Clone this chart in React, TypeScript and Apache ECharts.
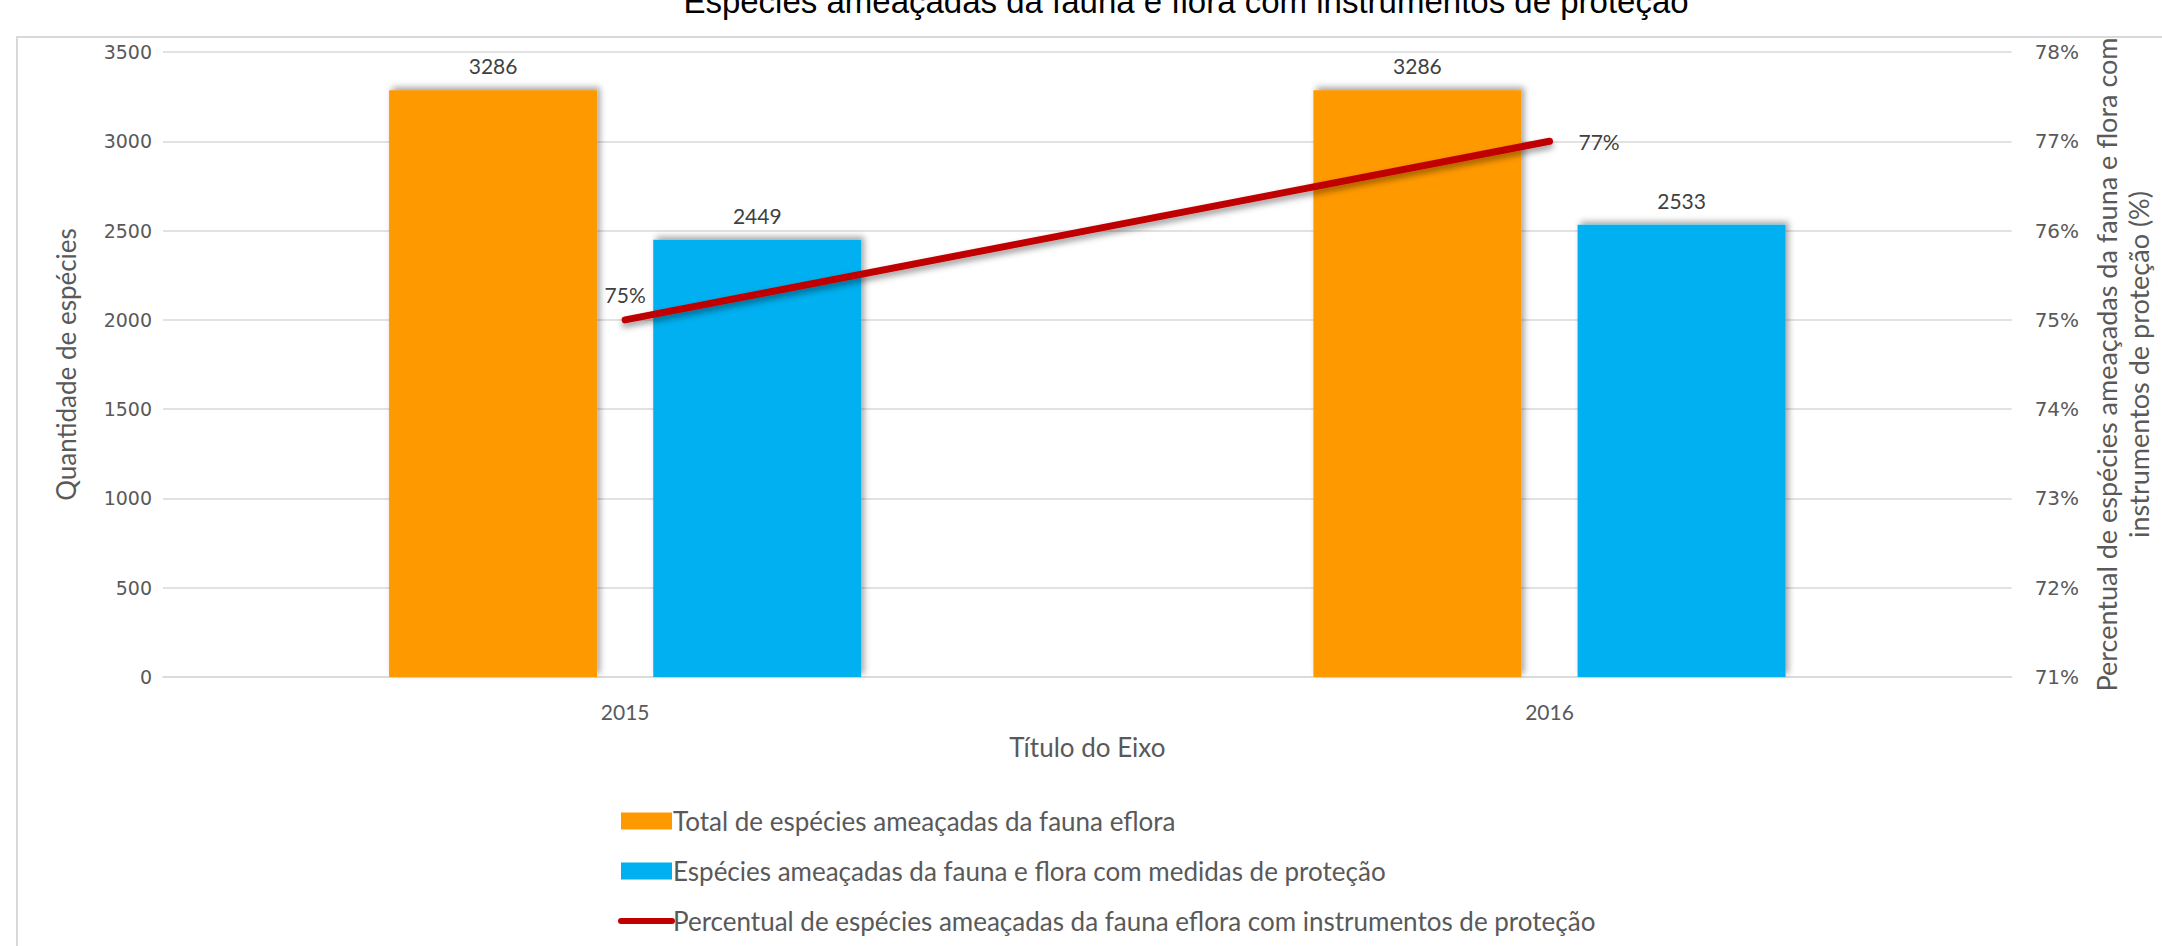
import React, { useEffect, useRef } from "react";
import * as echarts from "echarts";

const categories = ["2015", "2016"];
const totalSpecies = [3286, 3286];
const protectedSpecies = [2449, 2533];
const percentProtected = [75, 77];
const leftTicks = { min: 0, max: 3500, interval: 500 };
const rightTicks = { min: 71, max: 78, interval: 1 };

const seriesNames = [
  "Total de espécies ameaçadas da fauna eflora",
  "Espécies ameaçadas da fauna e flora com medidas de proteção",
  "Percentual de espécies ameaçadas da fauna eflora com instrumentos de proteção",
];
const titleText = "Espécies ameaçadas da fauna e flora com instrumentos de proteção";
const leftAxisTitle = "Quantidade de espécies";
const rightAxisTitle = "Percentual de espécies ameaçadas da fauna e flora com\ninstrumentos de proteção (%)";
const xAxisTitle = "Título do Eixo";

const LABEL_FONT = "Lato, 'Open Sans', sans-serif";
const TICK_FONT = "'DejaVu Sans', sans-serif";

export default function App() {
  const ref = useRef<HTMLDivElement>(null);
  useEffect(() => {
    if (!ref.current) return;
    const chart = echarts.init(ref.current, null, { renderer: "svg" });
    const barShadow = {
      shadowColor: "rgba(0,0,0,0.35)",
      shadowBlur: 6,
      shadowOffsetX: 3,
      shadowOffsetY: -3,
    };
    chart.setOption({
      animation: false,
      backgroundColor: "#ffffff",
      graphic: [
        {
          type: "rect",
          shape: { x: 17, y: 37, width: 2200, height: 1000 },
          style: { fill: "none", stroke: "#D9D9D9", lineWidth: 2 },
          silent: true,
          z: -10,
        },
        {
          type: "text",
          x: 1186,
          y: 1,
          style: {
            text: titleText,
            fill: "#000000",
            font: "33px 'Liberation Sans', Arial, sans-serif",
            align: "center",
            verticalAlign: "middle",
          },
        },
      ],
      grid: { left: 163, right: 120, top: 52, bottom: 269, containLabel: false },
      legend: {
        orient: "vertical",
        left: 618,
        top: 806,
        padding: 0,
        itemWidth: 51,
        itemHeight: 17,
        itemGap: 20,
        textStyle: {
          fontFamily: LABEL_FONT,
          fontSize: 26,
          color: "#595959",
          lineHeight: 30,
          padding: [0, 0, 0, -4],
        },
        data: [
          { name: seriesNames[0], icon: "rect" },
          { name: seriesNames[1], icon: "rect" },
          {
            name: seriesNames[2],
            itemStyle: { color: "rgba(0,0,0,0)", borderWidth: 0 },
            lineStyle: { color: "#C00000", width: 6, cap: "round", shadowBlur: 0 },
          },
        ],
      },
      xAxis: {
        type: "category",
        data: categories,
        axisTick: { show: false },
        axisLine: { lineStyle: { color: "#D9D9D9", width: 1.5 } },
        axisLabel: { color: "#595959", fontFamily: LABEL_FONT, fontSize: 21, margin: 24 },
        name: xAxisTitle,
        nameLocation: "middle",
        nameGap: 57,
        nameTextStyle: { color: "#595959", fontFamily: LABEL_FONT, fontSize: 26 },
      },
      yAxis: [
        {
          type: "value",
          min: leftTicks.min,
          max: leftTicks.max,
          interval: leftTicks.interval,
          axisLine: { show: false },
          axisTick: { show: false },
          splitLine: { lineStyle: { color: "#D9D9D9", width: 1.5 } },
          axisLabel: {
            color: "#595959",
            fontFamily: TICK_FONT,
            fontSize: 19,
            margin: 11,
            formatter: (v: number) => String(v),
          },
          name: leftAxisTitle,
          nameLocation: "middle",
          nameGap: 84,
          nameTextStyle: { color: "#595959", fontFamily: LABEL_FONT, fontSize: 26 },
        },
        {
          type: "value",
          position: "right",
          min: rightTicks.min,
          max: rightTicks.max,
          interval: rightTicks.interval,
          axisLine: { show: false },
          axisTick: { show: false },
          splitLine: { show: false },
          axisLabel: {
            color: "#595959",
            fontFamily: TICK_FONT,
            fontSize: 20,
            margin: 23,
            formatter: (v: number) => v + "%",
          },
          name: rightAxisTitle,
          nameLocation: "middle",
          nameGap: 72,
          nameTextStyle: {
            color: "#595959",
            fontFamily: LABEL_FONT,
            fontSize: 27,
            lineHeight: 32,
            align: "center",
          },
        },
      ],
      series: [
        {
          name: seriesNames[0],
          type: "bar",
          data: totalSpecies,
          barWidth: 208,
          barGap: "27%",
          itemStyle: { color: "#FF9900", ...barShadow },
          label: {
            show: true,
            position: "top",
            distance: 14,
            color: "#404040",
            fontFamily: LABEL_FONT,
            fontSize: 21,
          },
        },
        {
          name: seriesNames[1],
          type: "bar",
          data: protectedSpecies,
          barWidth: 208,
          itemStyle: { color: "#00B0F0", ...barShadow },
          label: {
            show: true,
            position: "top",
            distance: 14,
            color: "#404040",
            fontFamily: LABEL_FONT,
            fontSize: 21,
          },
        },
        {
          name: seriesNames[2],
          type: "line",
          yAxisIndex: 1,
          z: 5,
          symbol: "circle",
          symbolSize: 2,
          showSymbol: true,
          data: [
            { value: percentProtected[0], label: { position: "top", distance: 14 } },
            { value: percentProtected[1], label: { position: "right", distance: 28 } },
          ],
          lineStyle: {
            color: "#C00000",
            width: 7,
            cap: "round",
            shadowColor: "rgba(0,0,0,0.4)",
            shadowBlur: 6,
            shadowOffsetY: 4,
          },
          itemStyle: { color: "#C00000" },
          label: {
            show: true,
            formatter: "{c}%",
            color: "#404040",
            fontFamily: LABEL_FONT,
            fontSize: 21,
          },
        },
      ],
    });
    return () => chart.dispose();
  }, []);
  return (
    <div
      ref={ref}
      style={{ position: "fixed", left: 0, top: 0, width: 2162, height: 946 }}
    />
  );
}
